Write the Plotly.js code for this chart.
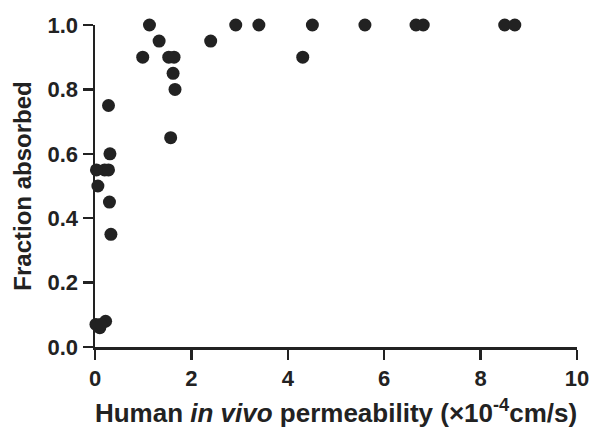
<!DOCTYPE html>
<html>
<head>
<meta charset="utf-8">
<script src="https://cdn.plot.ly/plotly-3.0.1.min.js"></script>
<style>html,body{margin:0;padding:0;background:#fff;}#chart{width:592px;height:434px;}</style>
</head>
<body>
<div id="chart"></div>
<script>
// Human in vivo permeability (x10^-4 cm/s)
const permeability = [1.13, 1.33, 0.99, 1.53, 1.64, 1.62, 1.66, 1.57,
  0.28, 0.31, 0.03, 0.20, 0.28, 0.06, 0.30, 0.33,
  0.02, 0.10, 0.22, 0.12,
  2.40, 2.92, 3.40, 4.51, 4.31, 5.60, 6.66, 6.81, 8.50, 8.71];
// Fraction absorbed
const fractionAbsorbed = [1.00, 0.95, 0.90, 0.90, 0.90, 0.85, 0.80, 0.65,
  0.75, 0.60, 0.55, 0.55, 0.55, 0.50, 0.45, 0.35,
  0.07, 0.06, 0.08, 0.07,
  0.95, 1.00, 1.00, 1.00, 0.90, 1.00, 1.00, 1.00, 1.00, 1.00];
const xTicks = [0, 2, 4, 6, 8, 10];
const yTicks = [0.0, 0.2, 0.4, 0.6, 0.8, 1.0];

const ink = '#222222';
const fam = 'Liberation Sans, Arial, sans-serif';
const trace = {
  x: permeability,
  y: fractionAbsorbed,
  type: 'scatter',
  mode: 'markers',
  marker: {size: 13, color: ink},
  cliponaxis: false,
  hoverinfo: 'skip'
};
const layout = {
  width: 592, height: 434,
  margin: {l: 95, r: 15, t: 25, b: 87},
  paper_bgcolor: '#ffffff', plot_bgcolor: '#ffffff',
  showlegend: false,
  font: {family: fam, color: ink},
  xaxis: {
    range: [0, 10], tickvals: xTicks, ticktext: xTicks.map(String),
    showgrid: false, zeroline: false, showline: true, linecolor: ink, linewidth: 2.5,
    ticks: 'outside', ticklen: 10, tickwidth: 2.5, tickcolor: ink,
    tickfont: {size: 22, family: fam, weight: 'bold', color: ink},
    title: {text: 'Human <i>in vivo</i> permeability (×10<sup>-4</sup>cm/s)', standoff: 14,
      font: {size: 26, family: fam, weight: 'bold', color: ink}},
    automargin: false
  },
  yaxis: {
    range: [0, 1], tickvals: yTicks, ticktext: yTicks.map(v => v.toFixed(1)),
    showgrid: false, zeroline: false, showline: true, linecolor: ink, linewidth: 2.5,
    ticks: 'outside', ticklen: 10, tickwidth: 2.5, tickcolor: ink,
    tickfont: {size: 22, family: fam, weight: 'bold', color: ink},
    title: {text: 'Fraction absorbed', standoff: 9,
      font: {size: 24, family: fam, weight: 'bold', color: ink}},
    automargin: false
  }
};
Plotly.newPlot('chart', [trace], layout, {displayModeBar: false, staticPlot: true});
</script>
</body>
</html>
